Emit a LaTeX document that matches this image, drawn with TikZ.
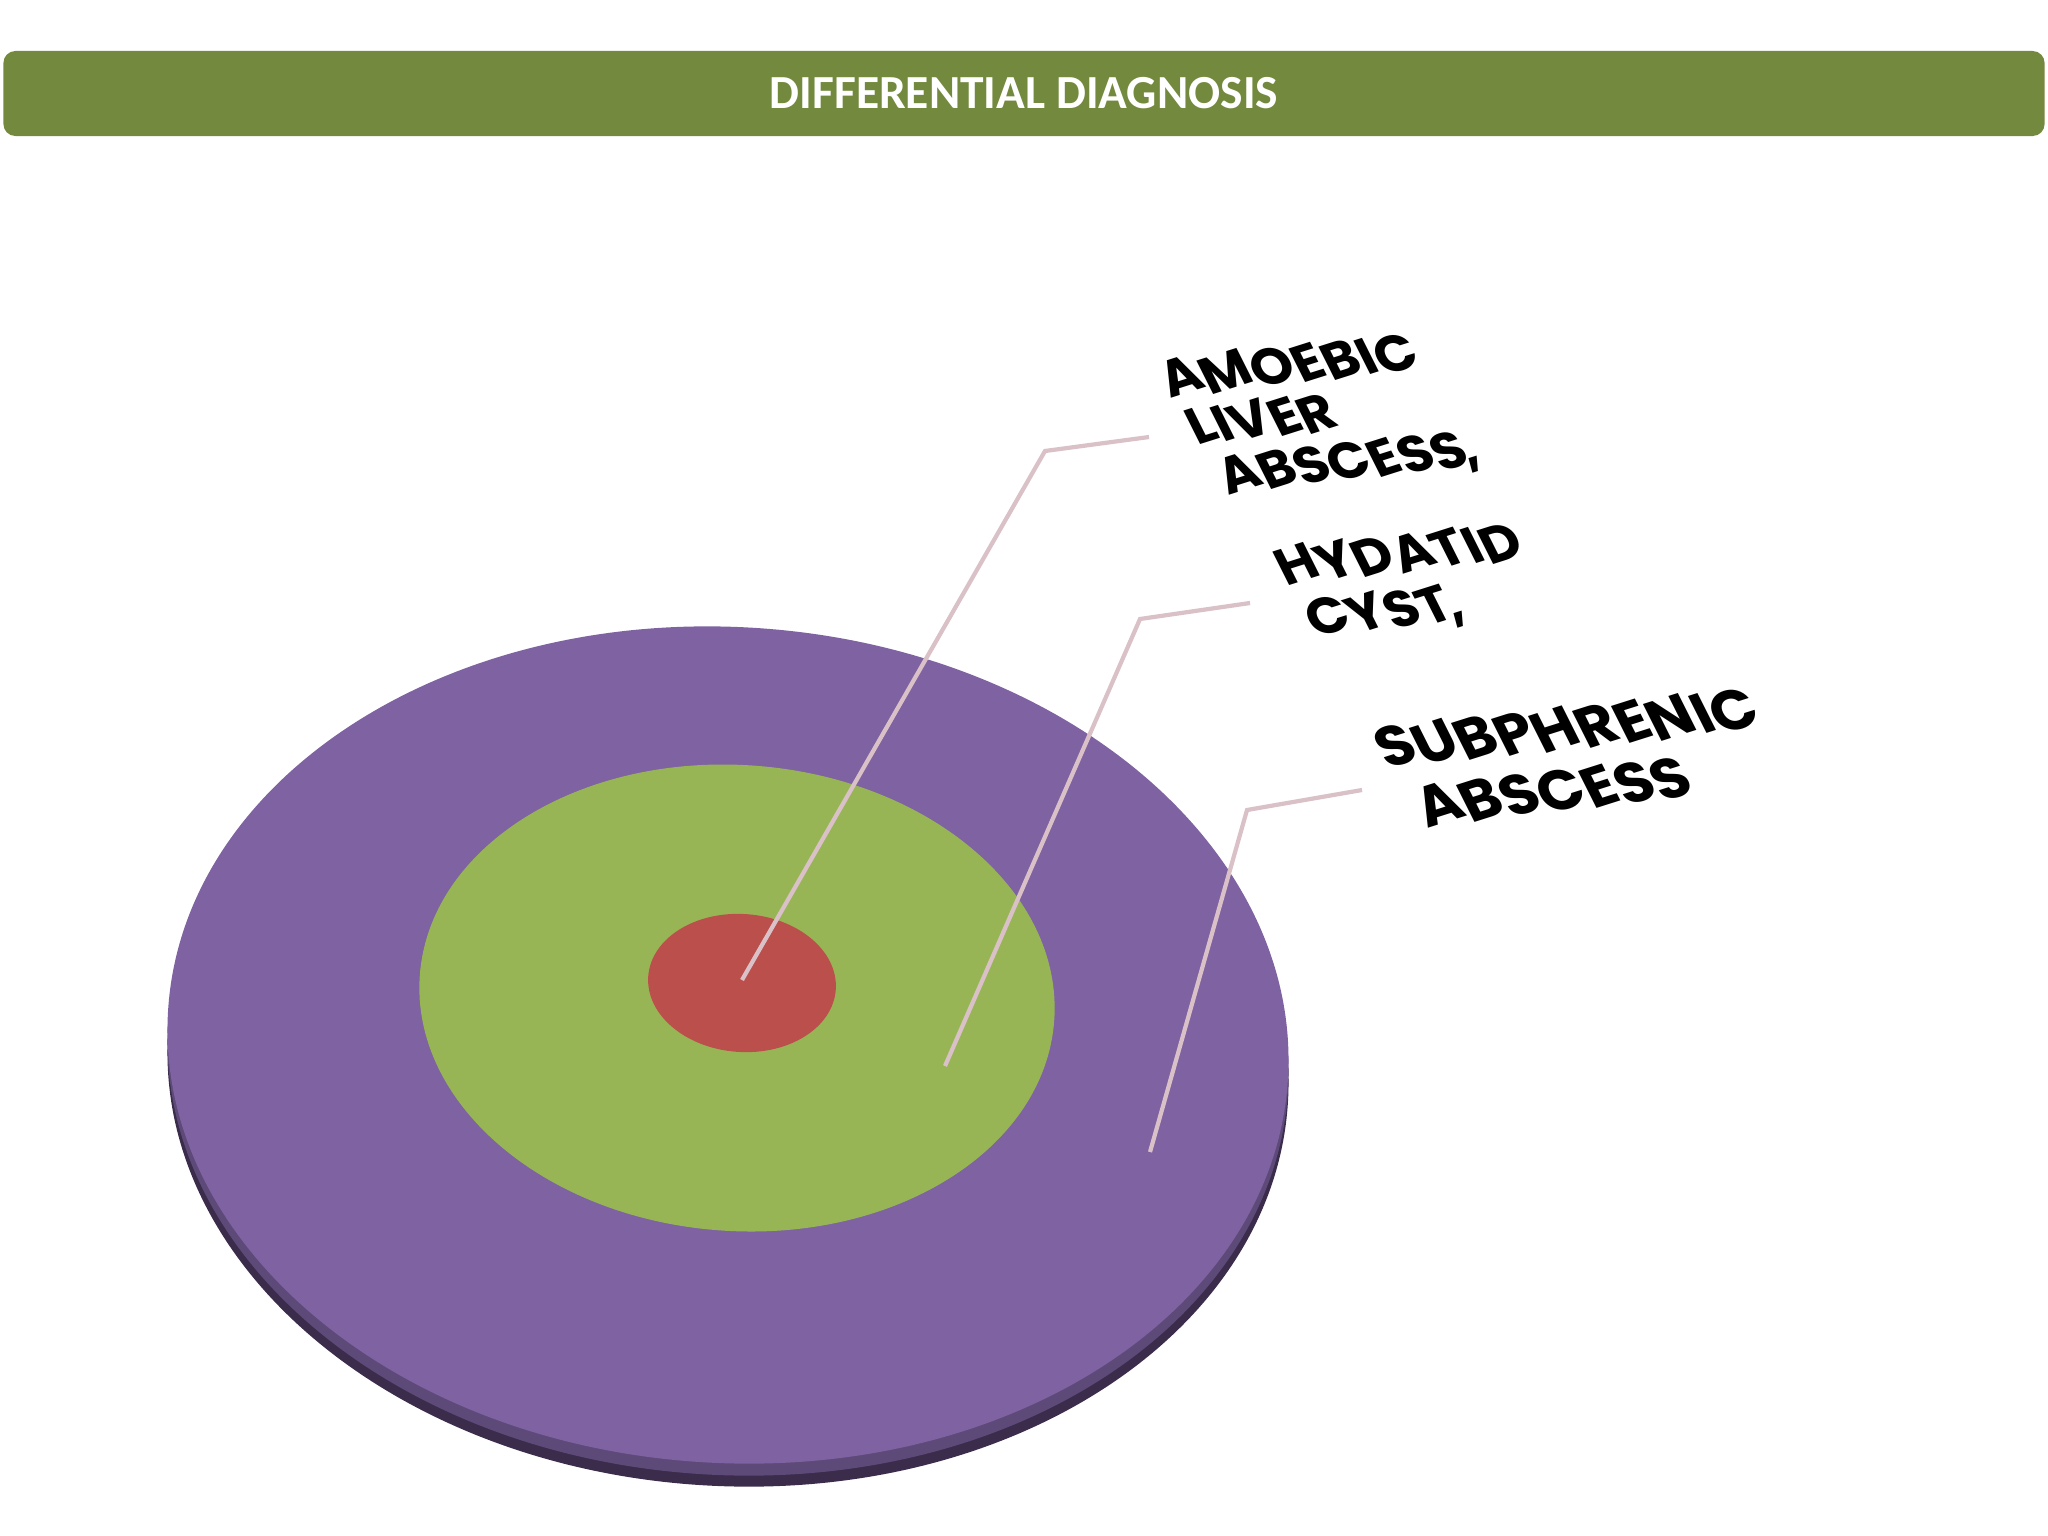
\documentclass[tikz,border=0pt]{standalone}
\usepackage{fontspec}
\usepackage{graphicx}
\setmainfont{Carlito}
\newfontfamily\lblfont{Poppins}

\definecolor{hdrgreen}{RGB}{115,138,62}
\definecolor{ringpurple}{RGB}{126,98,161}
\definecolor{rimmid}{RGB}{93,74,120}
\definecolor{rimdark}{RGB}{58,44,74}
\definecolor{ringgreen}{RGB}{152,181,86}
\definecolor{ringred}{RGB}{186,79,75}
\definecolor{leadpink}{RGB}{217,193,199}

% every letter of a word turned a little more than its line
\newcommand\tw[1]{\twloop#1\relax}
\def\twloop#1{\ifx\relax#1\else\twchar{#1}\expandafter\twloop\fi}
\newcommand\twchar[1]{\rlap{\rotatebox[origin=c]{12}{#1}}\phantom{#1}}

\tikzset{
	hdr/.style={fill=hdrgreen, rounded corners=0.12cm, minimum width=20.4cm,
		minimum height=0.85cm, inner sep=0pt, text=white,
		font=\bfseries\fontsize{13.5}{16}\selectfont},
	leader/.style={draw=leadpink, line width=1.2pt},
	lbl/.style={font=\lblfont\bfseries\fontsize{14.5}{14.5}\selectfont, align=left,
		anchor=base west, inner sep=0pt, rotate=6, xslant=-0.15, xscale=1.07}
}

\begin{document}
\begin{tikzpicture}[x=0.01cm, y=-0.01cm]
	\useasboundingbox (0,0) rectangle (2048,1536);
	\node[hdr] (title) at (1024,93.5) {DIFFERENTIAL DIAGNOSIS};
	% disk with its rim
	\fill[rimdark, rotate around={-3.5:(728,1068)}] (728,1068) ellipse [x radius=561, y radius=418];
	\fill[rimmid, rotate around={-3.5:(728,1057)}] (728,1057) ellipse [x radius=561, y radius=418];
	\fill[ringpurple, rotate around={-3.5:(728,1045)}] (728,1045) ellipse [x radius=561, y radius=418];
	\fill[ringgreen, rotate around={-4:(737,998)}] (737,998) ellipse [x radius=318, y radius=233];
	\fill[ringred, rotate around={-4:(742,983)}] (742,983) ellipse [x radius=94, y radius=69];
	% leader lines
	\coordinate (a0) at (742,980);
	\coordinate (a1) at (1045,451);
	\coordinate (a2) at (1149,437);
	\coordinate (h0) at (945,1066);
	\coordinate (h1) at (1140,619);
	\coordinate (h2) at (1250,603);
	\coordinate (s0) at (1150,1152);
	\coordinate (s1) at (1247,810);
	\coordinate (s2) at (1362,790);
	\draw[leader] (a0) -- (a1) -- (a2);
	\draw[leader] (h0) -- (h1) -- (h2);
	\draw[leader] (s0) -- (s1) -- (s2);
	% labels
	\node[lbl] (amoebic) at (1187,496) {\tw{AMOEBIC}\\\hspace*{3.8pt}\tw{LIVER}\\\hspace*{8.5pt}\tw{ABSCESS,}};
	\node[lbl, font=\lblfont\bfseries\fontsize{14.5}{15.6}\selectfont] (hydatid) at (1291,638) {\tw{HYDATID}\\\hspace*{4.3pt}\tw{CYST,}};
	\node[lbl, font=\lblfont\bfseries\fontsize{16}{17.5}\selectfont] (subphrenic) at (1393,828) {\tw{SUBPHRENIC}\\\hspace*{6.5pt}\tw{ABSCESS}};
\end{tikzpicture}
\end{document}
